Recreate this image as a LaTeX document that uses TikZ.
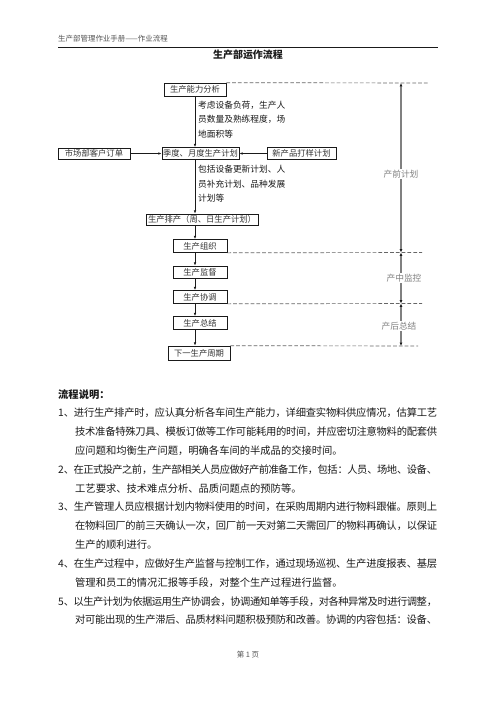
\documentclass[tikz,border=0pt]{standalone}
\usepackage{fontspec}
\setmainfont{Noto Sans CJK SC}
\usetikzlibrary{arrows.meta,positioning}
\XeTeXlinebreaklocale "zh"
\XeTeXlinebreakskip=0pt plus 2pt minus 2.5pt
\setlength\parindent{0pt}
\newlength\pxu
\setlength\pxu{0.4234mm}
\definecolor{ink}{HTML}{1A1A1A}
\definecolor{boxtext}{HTML}{333333}
\definecolor{headgray}{HTML}{555555}
\definecolor{muted}{HTML}{808080}
\definecolor{dashc}{HTML}{666666}
\newcommand\flushline{\leftskip=0pt\rightskip=0pt\parfillskip=0pt\tolerance=9999\hbadness=10000\relax}
\tikzset{
  stepbox/.style={draw=ink, line width=0.8pt, inner sep=0pt, text=boxtext, font=\fontsize{10}{12}\selectfont},
  flow/.style={draw=ink, line width=0.8pt, -{Latex[length=4pt,width=3.2pt]}},
  span/.style={draw=muted, line width=1.4pt, {Latex[length=4pt,width=3.4pt,color=ink]}-{Latex[length=4pt,width=3.4pt,color=ink]}},
  guide/.style={draw=dashc, line width=0.8pt, dash pattern=on 4.5pt off 2.5pt},
  note/.style={text=ink, font=\fontsize{10.5}{17.5}\selectfont, align=left, anchor=west, inner sep=0pt},
  phase/.style={text=muted, font=\fontsize{10.5}{12}\selectfont, fill=white, inner sep=1pt},
  bodyline/.style={text=ink, font=\fontsize{12.4}{14}\selectfont, anchor=west, inner sep=0pt, text width=#1\pxu},
  headtext/.style={text=headgray, font=\fontsize{9}{11}\selectfont, inner sep=0pt},
}

\begin{document}
\begin{tikzpicture}[x=\pxu,y=-\pxu]
  \fill[white] (0,0) rectangle (496,702);
  \useasboundingbox (0,0) rectangle (496,702);

  % page head
  \node[headtext,anchor=west] (head) at (58,39) {生产部管理作业手册——作业流程};
  \draw[ink, line width=0.8pt] (58,47) -- (438,47);
  \node[text=ink, font=\fontsize{12}{14}\selectfont\bfseries, inner sep=0pt] (title) at (248,55) {生产部运作流程};

  % flow chart
  \coordinate (spine) at (195,0);
  \coordinate (rail) at (401,0);
  \node[stepbox, minimum width=62\pxu, minimum height=13\pxu] (cap) at (195,89.5) {生产能力分析};
  \node[stepbox, minimum width=77\pxu, minimum height=12\pxu] (season) at (200.5,153.5) {季度、月度生产计划};
  \node[stepbox, minimum width=72\pxu, minimum height=11\pxu] (market) at (94,153.5) {市场部客户订单};
  \node[stepbox, minimum width=69\pxu, minimum height=12\pxu] (newprod) at (301.5,153.5) {新产品打样计划};
  \node[stepbox, minimum width=112\pxu, minimum height=11\pxu] (sched) at (202,219.5) {生产排产（周、日生产计划）};
  \node[stepbox, minimum width=54\pxu, minimum height=13\pxu] (org) at (200,246) {生产组织};
  \node[stepbox, minimum width=54\pxu, minimum height=12\pxu] (sup) at (200,272) {生产监督};
  \node[stepbox, minimum width=54\pxu, minimum height=13\pxu] (coord) at (200,297) {生产协调};
  \node[stepbox, minimum width=54\pxu, minimum height=13\pxu] (sum) at (200,323) {生产总结};
  \node[stepbox, minimum width=62\pxu, minimum height=14\pxu] (next) at (199,353) {下一生产周期};

  \node[note] (capnote) at (198,119.5) {考虑设备负荷，生产人\\员数量及熟练程度，场\\地面积等};
  \node[note] (plannote) at (198,184) {包括设备更新计划、人\\员补充计划、品种发展\\计划等};

  \draw[flow] (cap.south) -- (cap.south |- season.north);
  \draw[flow] (market) -- (season);
  \draw[flow] (newprod) -- (season);
  \draw[flow] (spine |- season.south) -- (spine |- sched.north);
  \draw[flow] (spine |- sched.south) -- (spine |- org.north);
  \draw[flow] (spine |- org.south) -- (spine |- sup.north);
  \draw[flow] (spine |- sup.south) -- (spine |- coord.north);
  \draw[flow] (spine |- coord.south) -- (spine |- sum.north);
  \draw[flow] (spine |- sum.south) -- (spine |- next.north);

  % phase marks on the right
  \coordinate (guideA) at (428,83);
  \coordinate (guideB) at (422,252.5);
  \coordinate (guideC) at (422,303.5);
  \coordinate (guideD) at (418,346);
  \draw[guide] (cap.north east) -- (guideA);
  \draw[guide] (org.south east) -- (guideB);
  \draw[guide] (coord.south east) -- (guideC);
  \draw[guide] (next.north east) -- (guideD);

  \draw[span] (rail |- guideB) -- (rail |- guideA);
  \draw[span] (rail |- guideB) -- (rail |- guideC);
  \draw[span] (rail |- guideC) -- (rail |- guideD);
  \node[phase] (pre) at (401,174) {产前计划};
  \node[phase] (mid) at (404,278) {产中监控};
  \node[phase] (post) at (399,326) {产后总结};

  % notes below the chart
  \node[bodyline=150, font=\fontsize{12.4}{14}\selectfont\bfseries] (explain) at (58,395) {流程说明：};
  \node[bodyline=379] (l1) at (58,413) {\flushline 1、进行生产排产时，应认真分析各车间生产能力，详细查实物料供应情况，估算工艺};
  \node[bodyline=362] (l2) at (75,431.8) {\flushline 技术准备特殊刀具、模板订做等工作可能耗用的时间，并应密切注意物料的配套供};
  \node[bodyline=362] (l3) at (75,450.6) {应问题和均衡生产问题，明确各车间的半成品的交接时间。};
  \node[bodyline=379] (l4) at (58,469.5) {\flushline 2、在正式投产之前，生产部相关人员应做好产前准备工作，包括：人员、场地、设备、};
  \node[bodyline=362] (l5) at (75,488.3) {工艺要求、技术难点分析、品质问题点的预防等。};
  \node[bodyline=379] (l6) at (58,507.1) {\flushline 3、生产管理人员应根据计划内物料使用的时间，在采购周期内进行物料跟催。原则上};
  \node[bodyline=362] (l7) at (75,525.9) {\flushline 在物料回厂的前三天确认一次，回厂前一天对第二天需回厂的物料再确认，以保证};
  \node[bodyline=362] (l8) at (75,544.7) {生产的顺利进行。};
  \node[bodyline=379] (l9) at (58,563.5) {\flushline 4、在生产过程中，应做好生产监督与控制工作，通过现场巡视、生产进度报表、基层};
  \node[bodyline=362] (l10) at (75,582.3) {管理和员工的情况汇报等手段，对整个生产过程进行监督。};
  \node[bodyline=379] (l11) at (58,601.2) {\flushline 5、以生产计划为依据运用生产协调会，协调通知单等手段，对各种异常及时进行调整，};
  \node[bodyline=362] (l12) at (75,620) {\flushline 对可能出现的生产滞后、品质材料问题积极预防和改善。协调的内容包括：设备、};

  \node[headtext] (foot) at (248,655) {第 1 页};
\end{tikzpicture}
\end{document}
